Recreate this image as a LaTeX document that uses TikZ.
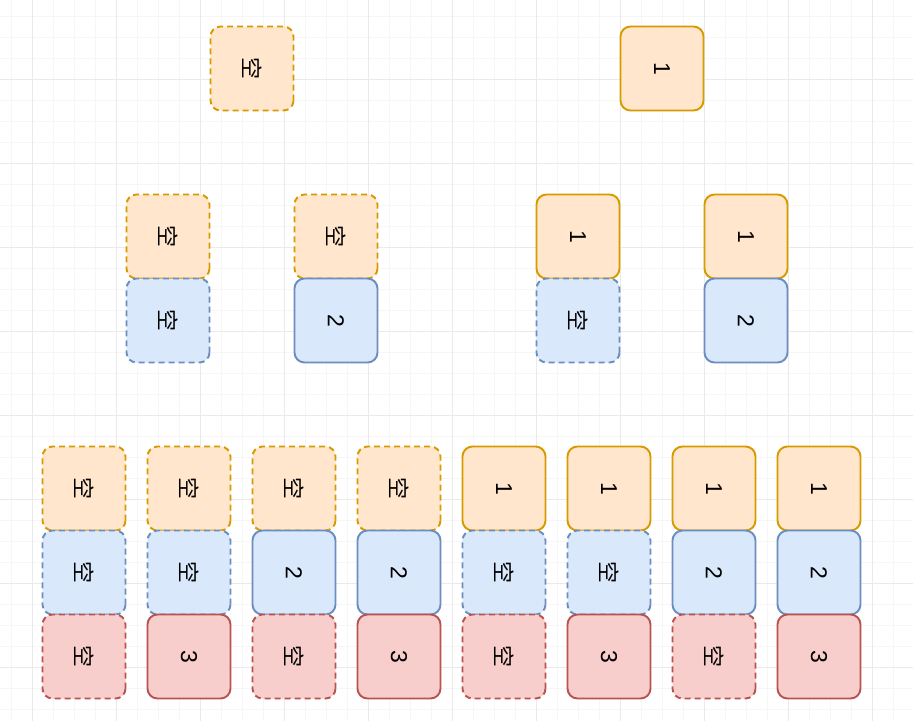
\documentclass[tikz,border=0pt]{standalone}
\usepackage{fontspec}
\setmainfont{Liberation Sans}
\newfontfamily\cjk{Noto Sans CJK SC}
\definecolor{ofill}{HTML}{FFE6CC}
\definecolor{oline}{HTML}{D79B00}
\definecolor{bfill}{HTML}{DAE8FC}
\definecolor{bline}{HTML}{6C8EBF}
\definecolor{rfill}{HTML}{F8CECC}
\definecolor{rline}{HTML}{B85450}
\definecolor{gmin}{HTML}{F6F6F6}
\definecolor{gmaj}{HTML}{EAEAEA}
\tikzset{
  box/.style={rounded corners=10pt, minimum width=84pt, minimum height=83pt, line width=1.9pt, inner sep=0pt, rotate=-90, font=\fontsize{23}{26}\selectfont},
  ob/.style={box, fill=ofill, draw=oline},
  bb/.style={box, fill=bfill, draw=bline},
  rb/.style={box, fill=rfill, draw=rline},
  dsh/.style={dash pattern=on 6pt off 4pt},
}
\newcommand{\kong}{{\cjk\fontsize{22}{26}\selectfont 空}}
\begin{document}
\begin{tikzpicture}[x=1pt,y=-1pt]
\useasboundingbox (0,0) rectangle (913,721);
\fill[white] (0,0) rectangle (913,721);
\foreach \i in {0,...,43} \draw[gmin, line width=0.8pt] ({11+21*\i},0) -- ({11+21*\i},721);
\foreach \i in {0,...,34} \draw[gmin, line width=0.8pt] (0,{16+21*\i}) -- (913,{16+21*\i});
\foreach \i in {0,...,10} \draw[gmaj, line width=0.8pt] ({32+84*\i},0) -- ({32+84*\i},721);
\foreach \i in {0,...,7} \draw[gmaj, line width=0.8pt] (0,{79+84*\i}) -- (913,{79+84*\i});

% row 1
\node[ob,dsh] (a0) at (252,68.5) {\kong};
\node[ob] (a1) at (662,68.5) {1};

% row 2
\node[ob,dsh] (b00) at (168,236.5) {\kong};
\node[bb,dsh] (b01) at (168,320.5) {\kong};
\node[ob,dsh] (b10) at (336,236.5) {\kong};
\node[bb] (b11) at (336,320.5) {2};
\node[ob] (b20) at (578,236.5) {1};
\node[bb,dsh] (b21) at (578,320.5) {\kong};
\node[ob] (b30) at (746,236.5) {1};
\node[bb] (b31) at (746,320.5) {2};

% row 3
\node[ob,dsh] (c00) at (84,488.5) {\kong};
\node[bb,dsh] (c01) at (84,572.5) {\kong};
\node[rb,dsh] (c02) at (84,656.5) {\kong};

\node[ob,dsh] (c10) at (189,488.5) {\kong};
\node[bb,dsh] (c11) at (189,572.5) {\kong};
\node[rb] (c12) at (189,656.5) {3};

\node[ob,dsh] (c20) at (294,488.5) {\kong};
\node[bb] (c21) at (294,572.5) {2};
\node[rb,dsh] (c22) at (294,656.5) {\kong};

\node[ob,dsh] (c30) at (399,488.5) {\kong};
\node[bb] (c31) at (399,572.5) {2};
\node[rb] (c32) at (399,656.5) {3};

\node[ob] (c40) at (504,488.5) {1};
\node[bb,dsh] (c41) at (504,572.5) {\kong};
\node[rb,dsh] (c42) at (504,656.5) {\kong};

\node[ob] (c50) at (609,488.5) {1};
\node[bb,dsh] (c51) at (609,572.5) {\kong};
\node[rb] (c52) at (609,656.5) {3};

\node[ob] (c60) at (714,488.5) {1};
\node[bb] (c61) at (714,572.5) {2};
\node[rb,dsh] (c62) at (714,656.5) {\kong};

\node[ob] (c70) at (819,488.5) {1};
\node[bb] (c71) at (819,572.5) {2};
\node[rb] (c72) at (819,656.5) {3};
\end{tikzpicture}
\end{document}
